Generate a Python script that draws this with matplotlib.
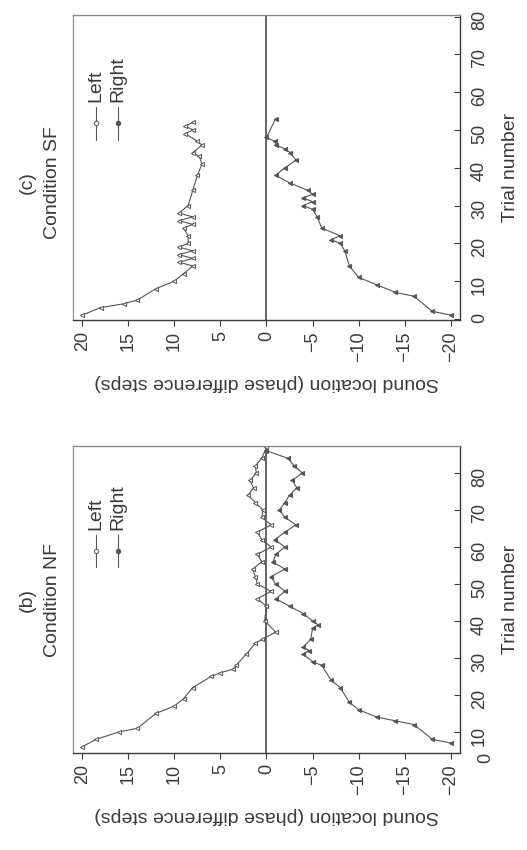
import matplotlib
matplotlib.use('Agg')
import matplotlib.pyplot as plt

plt.rcParams['font.family'] = ['Liberation Sans', 'DejaVu Sans']

# ----- ----- DATA (trial number, sound location) ----- -----
# (c) Condition SF
sf_left_trial = [1, 3, 4, 5, 8, 10, 12, 14, 15, 16, 17, 18, 19, 20, 22, 24, 25, 26, 27, 28,
                 30, 34, 38, 41, 43, 44, 46, 47, 49, 50, 51, 52]
sf_left_loc = [20, 18, 15.5, 14, 12, 10, 9, 8, 9.5, 8, 9.5, 8, 9.5, 8.5, 8.5, 9, 8, 9.5, 8, 9.5,
               8.5, 8, 7.5, 7, 7.3, 8, 7, 7.5, 8.8, 8, 8.8, 8]
sf_right_trial = [1, 2, 6, 7, 9, 11, 14, 18, 20, 21, 22, 24, 27, 29, 30, 31, 32, 33, 34, 36,
                  38, 40, 42, 44, 45, 46, 47, 48, 53]
sf_right_loc = [-20, -18, -16, -14, -12, -10, -9, -8.5, -8, -7, -8, -6, -5.5, -5, -4, -5, -4, -5, -4.5, -2.5,
                -1, -2, -3.2, -2.6, -2, -1, -0.9, 0, -1]

# (b) Condition NF
nf_left_trial = [6, 8, 10, 11, 15, 17, 19, 22, 25, 26, 27, 28, 31, 34, 35, 37, 40, 44,
                 46, 48, 50, 52, 54, 56, 58, 60, 62, 64, 66, 68, 70, 72, 74, 76, 78, 80, 82, 84, 87]
nf_left_loc = [20, 18.5, 16, 14, 12, 10, 9, 8, 6, 5, 3.6, 3.3, 2.2, 1.2, 0.5, -1, 0.2, 0,
               1, -0.5, 1, 1.2, 1.5, 0.5, 1, -0.5, 0.5, 1, -0.5, 0.5, 0.4, 1.2, 2, 1.4, 1.8, 1.1, 1.2, 0.5, 0]
nf_right_trial = [7, 8, 12, 13, 14, 16, 18, 22, 24, 28, 29, 31, 32, 33, 35, 38, 39, 40, 42, 44,
                  46, 48, 50, 52, 54, 56, 58, 60, 62, 64, 66, 68, 70, 72, 74, 76, 78, 80, 82, 84, 86]
nf_right_loc = [-20, -18, -16, -14, -12, -10, -9, -8, -7, -6, -5, -4, -4.6, -4, -4.8, -5, -5.6, -5, -4, -2.5,
                -1, -2, -1, -0.5, -2, -0.7, -1, -2, -0.9, -2, -3.2, -2, -1.4, -2, -2.5, -3.3, -2.8, -3.9, -3, -2.3, 0]

loc_ticks = [20, 15, 10, 5, 0, -5, -10, -15, -20]
loc_labels = [str(v).replace('-', '\u2212') for v in loc_ticks]
sf_trial_ticks = [0, 10, 20, 30, 40, 50, 60, 70, 80]
nf_trial_ticks = [10, 20, 30, 40, 50, 60, 70, 80]

INK = '#3a3a3a'
LINE = '#555555'
FS = 14


# ----- ----- PANEL ----- -----
def draw_panel(ax, lt, ls, rt, rs, letter, cond, ylim, yticks, title_y, leg_y):
    ax.axvline(0, color=INK, lw=1.1, zorder=1)
    ax.plot(ls, lt, '-', color=LINE, lw=0.8, marker='<', ms=3, mfc='white', mec=LINE, mew=0.7)
    ax.plot(rs, rt, '-', color=LINE, lw=0.8, marker='<', ms=3, mfc=LINE, mec=LINE, mew=0.7)

    ax.set_xlim(21, -21)
    ax.set_ylim(*ylim)
    ax.set_xticks(loc_ticks)
    ax.set_xticklabels(loc_labels)
    ax.set_yticks(yticks)
    ax.yaxis.tick_right()
    ax.yaxis.set_label_position('right')
    ax.tick_params(axis='x', labelrotation=90, labelsize=13, colors=INK, length=4, pad=4)
    ax.tick_params(axis='y', labelrotation=90, labelsize=13, colors=INK, length=4, direction='in', pad=8)
    for s in ax.spines.values():
        s.set_color(INK)
        s.set_linewidth(1.0)
    ax.spines['left'].set_color('#9a9a9a')
    ax.spines['top'].set_color('#8a8a8a')

    ax.set_xlabel('Sound location (phase difference steps)', rotation=180, fontsize=FS, color=INK, labelpad=9)
    ax.set_ylabel('Trial number', rotation=90, fontsize=FS, color=INK, labelpad=10)
    ax.text(-0.118, title_y, letter, rotation=90, ha='center', va='center', fontsize=FS,
            color=INK, transform=ax.transAxes)
    ax.text(-0.054, title_y, cond, rotation=90, ha='center', va='center', fontsize=FS,
            color=INK, transform=ax.transAxes)

    # hand-made legend (rotated with the figure)
    for x, filled, name in [(0.060, False, 'Left'), (0.117, True, 'Right')]:
        ax.plot([x, x], [leg_y[0], leg_y[1]], '-', color=LINE, lw=0.8, transform=ax.transAxes)
        ax.plot([x], [(leg_y[0] + leg_y[1]) / 2], marker='o', ms=3.2, color=LINE,
                mfc=LINE if filled else 'white', mew=0.7, transform=ax.transAxes)
        ax.text(x, leg_y[1] + 0.015, name, rotation=90, ha='center', va='bottom', fontsize=FS,
                color=INK, transform=ax.transAxes)


# ----- ----- FIGURE ----- -----
fig = plt.figure(figsize=(5.27, 8.5), dpi=100)
ax_c = fig.add_axes([0.1385, 0.6235, 0.7343, 0.3588])
ax_b = fig.add_axes([0.1385, 0.1141, 0.7343, 0.3612])

draw_panel(ax_c, sf_left_trial, sf_left_loc, sf_right_trial, sf_right_loc,
           '(c)', 'Condition SF', (-0.3, 80.4), sf_trial_ticks, 0.45, (0.59, 0.70))
draw_panel(ax_b, nf_left_trial, nf_left_loc, nf_right_trial, nf_right_loc,
           '(b)', 'Condition NF', (4.3, 87.3), nf_trial_ticks, 0.50, (0.606, 0.71))
ax_b.text(1.045, -0.015, '0', rotation=90, ha='left', va='center', fontsize=13, color=INK,
          transform=ax_b.transAxes)

fig.savefig('out.png', dpi=100, facecolor='white')
